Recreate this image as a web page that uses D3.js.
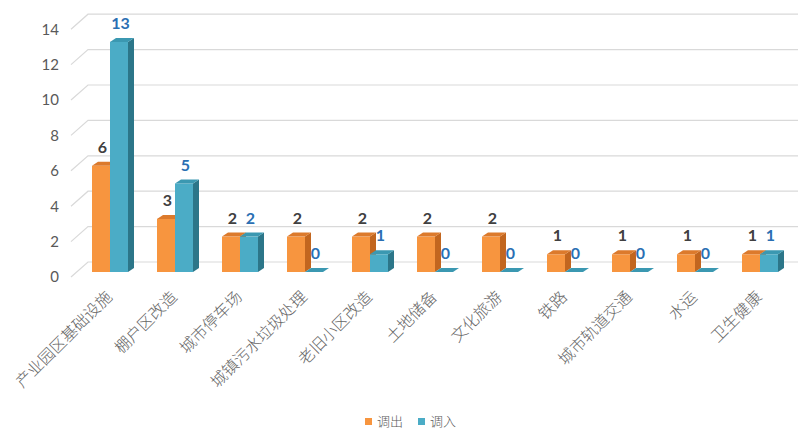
<!DOCTYPE html>
<html>
<head>
<meta charset="utf-8">
<script src="https://cdn.jsdelivr.net/npm/d3@7"></script>
<style>
  html, body { margin: 0; padding: 0; background: #fff; }
  svg { display: block; }
</style>
</head>
<body>
<svg id="chart" width="798" height="430"></svg>
<script>
// Project categories
const categories = ["产业园区基础设施", "棚户区改造", "城市停车场", "城镇污水垃圾处理", "老旧小区改造",
  "土地储备", "文化旅游", "铁路", "城市轨道交通", "水运", "卫生健康"];
// Series values
const seriesNames = ["调出", "调入"];
const outValues = [6, 3, 2, 2, 2, 2, 2, 1, 1, 1, 1];
const inValues  = [13, 5, 2, 0, 1, 0, 0, 0, 0, 0, 1];
// Value axis ticks
const yTicks = [0, 2, 4, 6, 8, 10, 12, 14];

const palette = {
  "调出": { front: "#f7953f", side: "#c2661f", top: "#dc7a2c", label: "#404040" },
  "调入": { front: "#4bacc6", side: "#2c7689", top: "#3b98b1", label: "#2a6fb3" }
};

const svg = d3.select("#chart");
const W = 798, H = 430;
const baseY = 272;          // front floor edge
const depth = { dx: 6, dy: -4 };

const y = d3.scaleLinear().domain([0, 14]).range([baseY, baseY - 14 * 17.7]);
const x = d3.scaleBand().domain(categories).range([77.5, 792.5]).padding(0);
const barW = 18;
const xs = d3.scaleBand().domain(seriesNames).range([0, barW * 2]);

// Back wall gridlines with the short diagonal floor/wall edge
const grid = svg.append("g").attr("class", "grid");
yTicks.forEach(v => {
  const yf = y(v);
  grid.append("path")
    .attr("d", `M71,${yf + 5}L88,${yf - 10}L${W},${yf - 10}`)
    .attr("fill", "none")
    .attr("stroke", "#d9d9d9")
    .attr("stroke-width", 1.2);
});

// Value axis labels
const yAxis = d3.axisLeft(d3.scaleLinear().domain([0, 14]).range([baseY + 5, baseY + 5 - 14 * 17.7]))
  .tickValues(yTicks).tickSize(0).tickPadding(0);
const yG = svg.append("g").attr("transform", "translate(59,0)").call(yAxis);
yG.select(".domain").remove();
yG.selectAll("text")
  .attr("fill", "#595959")
  .style("font-family", "Lato, 'Open Sans', sans-serif")
  .style("font-size", "15px");

// 3D columns
const rows = categories.map((c, i) => ({ cat: c, "调出": outValues[i], "调入": inValues[i] }));
const barsG = svg.append("g").attr("class", "bars");

function drawBar(g, x0, v, col) {
  const yt = y(v), w = barW, dx = depth.dx, dy = depth.dy;
  if (v > 0) {
    g.append("rect").attr("x", x0).attr("y", yt).attr("width", w).attr("height", baseY - yt)
      .attr("fill", col.front);
    g.append("path")
      .attr("d", `M${x0 + w},${yt}L${x0 + w + dx},${yt + dy}L${x0 + w + dx},${baseY + dy}L${x0 + w},${baseY}Z`)
      .attr("fill", col.side);
  }
  g.append("path")
    .attr("d", `M${x0},${yt}L${x0 + dx},${yt + dy}L${x0 + w + dx},${yt + dy}L${x0 + w},${yt}Z`)
    .attr("fill", col.top);
}

rows.forEach(r => {
  const cx = x(r.cat) + x.bandwidth() / 2;
  const gx = cx - barW;
  seriesNames.forEach(s => {
    drawBar(barsG, gx + xs(s), r[s], palette[s]);
  });
});

// Value labels
const labelsG = svg.append("g").attr("class", "value-labels");
rows.forEach(r => {
  const cx = x(r.cat) + x.bandwidth() / 2;
  const gx = cx - barW;
  seriesNames.forEach(s => {
    labelsG.append("text")
      .attr("x", gx + xs(s) + barW / 2 + 1.5)
      .attr("y", y(r[s]) - 13)
      .attr("text-anchor", "middle")
      .attr("fill", palette[s].label)
      .style("font-family", "Lato, 'Open Sans', sans-serif")
      .style("font-weight", "bold")
      .style("font-size", "16px")
      .text(r[s]);
  });
});

// Category labels, rotated
const catG = svg.append("g").attr("class", "categories");
categories.forEach(c => {
  const cx = x(c) + x.bandwidth() / 2;
  catG.append("text")
    .attr("transform", `translate(${cx + 3},298) rotate(-45)`)
    .attr("text-anchor", "end")
    .attr("fill", "#666")
    .style("font-family", "'Noto Sans CJK SC', sans-serif")
    .style("font-weight", "300")
    .style("font-size", "16px")
    .text(c);
});

// Legend
const legend = svg.append("g").attr("class", "legend");
const legendItems = [{ name: "调出", x: 365 }, { name: "调入", x: 418 }];
legendItems.forEach(d => {
  legend.append("rect").attr("x", d.x).attr("y", 418).attr("width", 7).attr("height", 7)
    .attr("fill", palette[d.name].front);
  legend.append("text")
    .attr("x", d.x + 12).attr("y", 426)
    .attr("fill", "#595959")
    .style("font-family", "'Noto Sans CJK SC', sans-serif")
    .style("font-weight", "300")
    .style("font-size", "13px")
    .text(d.name);
});
</script>
</body>
</html>
